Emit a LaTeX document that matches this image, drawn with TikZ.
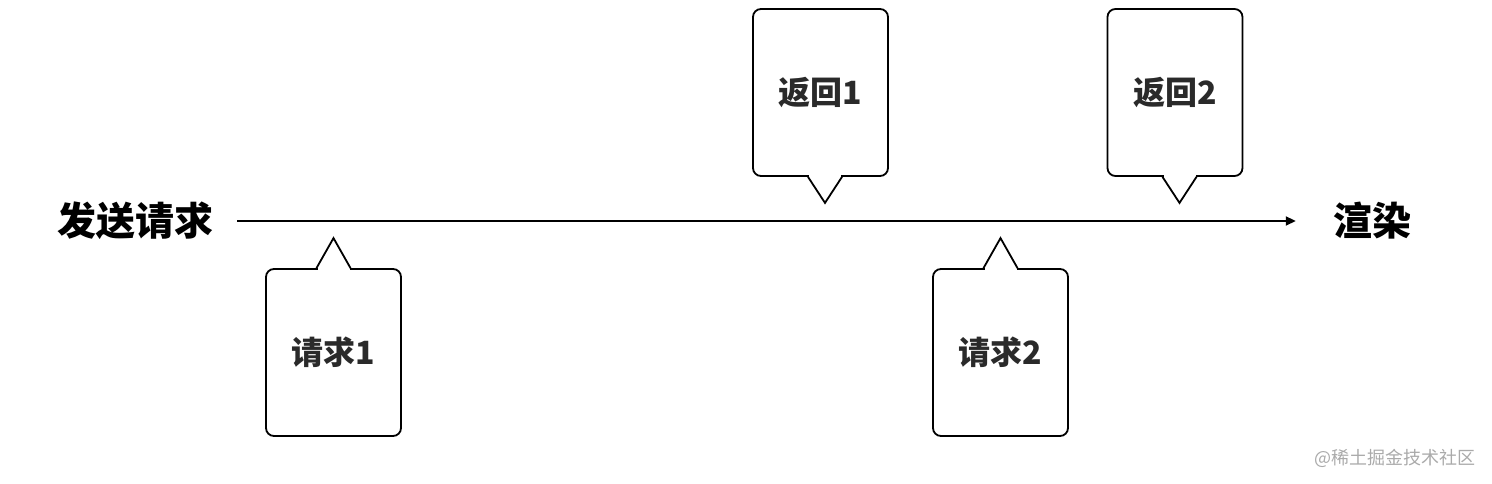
\documentclass[tikz,border=0pt]{standalone}
\usepackage{fontspec}
\usepackage{tikz}
\usetikzlibrary{arrows.meta, positioning, calc}
\newfontfamily\cjk{Noto Sans CJK SC}
\definecolor{InkGray}{HTML}{2A2A2A}
\definecolor{MarkGray}{HTML}{AAAAAA}

\begin{document}
\begin{tikzpicture}[x=1pt, y=1pt,
    stagelabel/.style={font=\cjk\bfseries\fontsize{39}{39}\selectfont, inner sep=0pt},
    bubble/.style={draw, line width=1.8pt, rounded corners=8pt, fill=white,
                   minimum width=135pt, minimum height=167pt, inner sep=0pt,
                   text=InkGray, font=\cjk\bfseries\fontsize{32}{32}\selectfont},
    bubbleline/.style={line width=1.8pt, line join=miter}]
\useasboundingbox (0,0) rectangle (1492,484);

% time line
\node[stagelabel] (send) at (135,263) {发送请求};
\node[stagelabel] (render) at (1372,263) {渲染};
\draw[line width=1.8pt, -{Triangle[length=10pt,width=9pt]}]
    ([xshift=24pt]send.east) -- ([xshift=-37pt]render.west);

% requests, below the line
\foreach \name/\cx/\txt in {req1/333.5/请求1, req2/1000.5/请求2} {
  \node[bubble] (\name) at (\cx,131.5) {\txt};
  \fill[white] ([xshift=-16pt,yshift=-1.5pt]\name.north) rectangle ([xshift=16pt,yshift=1.5pt]\name.north);
  \draw[bubbleline] ([xshift=-17pt]\name.north) -- ([yshift=30pt]\name.north) -- ([xshift=17pt]\name.north);
}

% responses, above the line
\foreach \name/\cx/\txt in {res1/820.5/返回1, res2/1175/返回2} {
  \node[bubble] (\name) at (\cx,391.5) {\txt};
  \fill[white] ([xshift=-11.5pt,yshift=-1.5pt]\name.south) rectangle ([xshift=20.5pt,yshift=1.5pt]\name.south);
  \draw[bubbleline] ([xshift=-12.5pt]\name.south) -- ([xshift=4.5pt,yshift=-26pt]\name.south) -- ([xshift=21.5pt]\name.south);
}

\node[font=\cjk\fontsize{18}{18}\selectfont, text=MarkGray, inner sep=0pt] (mark) at (1395,26) {@稀土掘金技术社区};
\end{tikzpicture}
\end{document}
